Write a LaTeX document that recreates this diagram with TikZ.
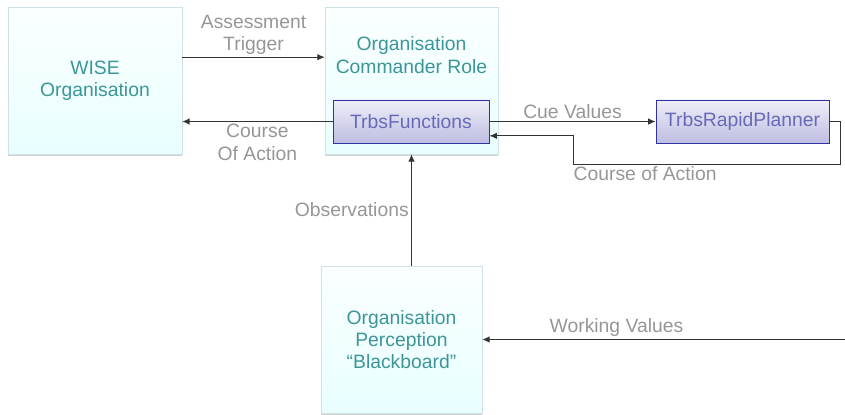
\documentclass[tikz,border=0pt]{standalone}
\usepackage{fontspec}
\setmainfont{Liberation Sans}
\usetikzlibrary{arrows.meta, shadows}
\definecolor{boxtxt}{RGB}{60,150,152}
\definecolor{boxline}{RGB}{205,225,230}
\definecolor{fntxt}{RGB}{105,105,185}
\definecolor{fnline}{RGB}{50,50,165}
\definecolor{lbltxt}{RGB}{150,150,150}
\tikzset{
    role/.style={draw=boxline, top color=white!70!cyan!5, bottom color=cyan!9,
        text=boxtxt, align=center, inner sep=2pt,
        drop shadow={shadow xshift=0.3pt, shadow yshift=-1.8pt, opacity=0.35}},
    func/.style={draw=fnline, line width=0.8pt, top color=fnline!8, bottom color=fnline!32,
        text=fntxt, inner sep=2pt},
    lbl/.style={text=lbltxt, align=center, inner sep=2pt},
    flow/.style={>={Latex[length=2.2mm, width=1.9mm]}, line width=0.8pt, draw=black!80},
    bd/.style={font=\fontsize{16.5}{19}\selectfont}
}
\begin{document}
\begin{tikzpicture}[bd]
    \useasboundingbox (0,0) rectangle (25.35,-12.45);

    \node[role, minimum width=5.22cm, minimum height=4.41cm] (wise) at (2.85,-2.415) {WISE\\Organisation};
    \node[role, minimum width=5.19cm, minimum height=4.41cm] (cmdr) at (12.345,-2.415) {};
    \node[boxtxt, align=center] (cmdrtxt) at (12.345,-1.65) {Organisation\\Commander Role};
    \node[func, minimum width=4.68cm, minimum height=1.29cm] (funcs) at (12.33,-3.645) {TrbsFunctions};
    \node[func, minimum width=5.19cm, minimum height=1.29cm] (planner) at (22.275,-3.645) {TrbsRapidPlanner};
    \node[role, minimum width=4.83cm, minimum height=4.41cm] (board) at (12.045,-10.185) {Organisation\\Perception\\``Blackboard''};

    \coordinate (loopr) at (25.2,-4.92);
    \coordinate (loopl) at (17.19,-4.92);
    \coordinate (wv) at (25.35,-10.185);

    \draw[flow, ->] ([yshift=0.7cm]wise.east) -- ([yshift=0.7cm]cmdr.west)
        node[lbl, midway, above] {Assessment\\Trigger};
    \draw[flow, ->] (funcs.west) -- (funcs.west -| wise.east)
        node[lbl, midway, below] {Course\\Of Action};
    \draw[flow, ->] (funcs.east) -- (planner.west)
        node[lbl, midway, above] {Cue Values};
    \draw[flow] (planner.east) -| (loopr) -- (loopl)
        node[lbl, pos=0.73, below] {Course of Action};
    \draw[flow, ->] (loopl) |- ([yshift=-0.43cm]funcs.east);
    \draw[flow, ->] (cmdr.south |- board.north) -- (cmdr.south)
        node[lbl, midway, left] {Observations};
    \draw[flow, ->] (wv) -- (board.east)
        node[lbl, pos=0.63, above] {Working Values};
\end{tikzpicture}
\end{document}
